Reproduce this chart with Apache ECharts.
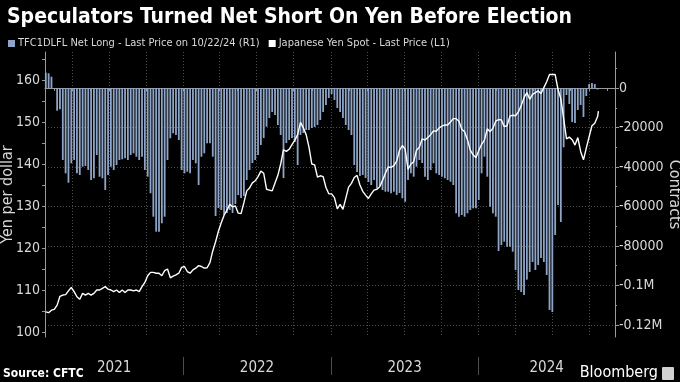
<!DOCTYPE html>
<html><head><meta charset="utf-8">
<script src="https://cdn.jsdelivr.net/npm/echarts@6/dist/echarts.min.js"></script>
<style>html,body{margin:0;padding:0;background:#000;}#c{width:680px;height:382px;}</style>
</head><body><div id="c"></div>
<script>
// ---- data ----
const firstWeek = [2021, 0, 26]; // weekly CFTC report dates (Tuesdays) from 26 Jan 2021
const netLong = [
 7750, 7440, 5720, -510, -11490, -10780, -36450, -43190, -47950, -38120,
 -36450, -43190, -44050, -39850, -39490, -41520, -46580, -45720, -33920, -44910,
 -45720, -51640, -44050, -39850, -41520, -38990, -36450, -36100, -35590, -36450,
 -33920, -33060, -34780, -36450, -34780, -41520, -44910, -53310, -65160, -72750,
 -72750, -68500, -65160, -36450, -25470, -22930, -23800, -26330, -41520, -43190,
 -42380, -43190, -36450, -38120, -49110, -34780, -33060, -28000, -28000, -34780,
 -64810, -60760, -61770, -64300, -63290, -61770, -63290, -58730, -54170, -55690,
 -54680, -46580, -41520, -37970, -36450, -33920, -28860, -25320, -19590, -15190,
 -12150, -13670, -18730, -23800, -45570, -27850, -26330, -25320, -27340, -38990,
 -23800, -22780, -21260, -21260, -20250, -19750, -18730, -16200, -12150, -8610,
 -5060, -3040, -6080, -10130, -12150, -15190, -18730, -21260, -23800, -38990,
 -42530, -44550, -44050, -45570, -47590, -49110, -46580, -50630, -49620, -51640,
 -52500, -52500, -53310, -52500, -54170, -53160, -55840, -57570, -46580, -43190,
 -44910, -39850, -36450, -37970, -44910, -46580, -41520, -38120, -43190, -44050,
 -44910, -45720, -46580, -47440, -49110, -63440, -65160, -64300, -65160, -63440,
 -61770, -60910, -60910, -56710, -43190, -34780, -44910, -60100, -63440, -65160,
 -82530, -79490, -77820, -80350, -80350, -82880, -92150, -102270, -103290, -104800,
 -97000, -93160, -88100, -92150, -89620, -86070, -88100, -94680, -112400, -113410,
 -74430, -59240, -67840, -30000, -3540, -8100, -17210, -17720, -11140, -8610,
 -14680, -4050, 2030, 2530, 2030, -760
];
const yenSpot = [
 104.8, 104.6, 105.2, 105.4, 106.4, 108.5, 108.8, 108.9, 109.8, 110.6,
 109.6, 108.4, 107.8, 109.2, 108.8, 109.2, 108.8, 109.2, 110.0, 110.0,
 110.4, 110.8, 110.2, 110.0, 109.6, 110.0, 109.4, 110.0, 109.4, 110.0,
 110.0, 109.8, 110.0, 109.6, 110.8, 111.8, 113.4, 114.2, 114.2, 114.0,
 114.0, 113.4, 114.6, 115.0, 112.9, 113.3, 113.6, 114.0, 115.4, 115.6,
 114.4, 114.0, 114.8, 115.2, 115.8, 115.6, 115.2, 115.3, 116.5, 119.3,
 121.5, 124.0, 126.0, 127.8, 129.0, 130.4, 129.8, 130.0, 128.3, 128.2,
 130.8, 133.6, 134.3, 135.5, 136.0, 137.0, 138.3, 137.8, 134.0, 133.8,
 133.6, 135.5, 137.3, 140.0, 143.4, 143.0, 143.5, 144.6, 145.7, 147.0,
 149.9, 148.6, 147.0, 144.0, 140.0, 139.8, 136.9, 137.2, 137.0, 134.4,
 132.9, 132.9, 132.0, 129.3, 130.4, 129.2, 131.8, 134.5, 135.4, 136.8,
 137.3, 135.0, 133.5, 132.6, 131.8, 132.9, 133.8, 134.0, 134.6, 136.1,
 137.8, 139.3, 139.2, 139.6, 140.7, 143.3, 144.4, 143.5, 138.7, 140.0,
 140.5, 143.3, 144.0, 146.0, 145.7, 146.3, 147.0, 147.9, 147.8, 148.6,
 149.0, 149.3, 149.3, 150.0, 150.8, 150.8, 150.2, 148.3, 147.7, 145.8,
 143.3, 142.2, 141.5, 143.2, 144.7, 145.7, 148.4, 147.7, 148.5, 150.2,
 150.6, 150.5, 148.9, 149.1, 151.4, 151.6, 151.5, 152.4, 153.9, 155.8,
 157.0, 155.4, 156.6, 157.0, 157.4, 156.8, 158.2, 159.6, 161.3, 161.3,
 161.3, 157.8, 155.5, 150.8, 146.0, 146.4, 145.8, 144.5, 146.3, 143.0,
 141.0, 143.8, 146.5, 149.1, 149.7, 151.3
];
const yenLast = ['2024-10-24', 152.6];
const yenTicks = [100, 110, 120, 130, 140, 150, 160];
const contractTicks = [0, -20000, -40000, -60000, -80000, -100000, -120000];
const yearLabels = ['2021', '2022', '2023', '2024'];

// ---- helpers ----
const DAY = 86400000;
const utc = (y, m, d) => Date.UTC(y, m, d);
const weekDates = netLong.map((_, k) => utc(firstWeek[0], firstWeek[1], firstWeek[2]) + k * 7 * DAY);
const xMin = utc(2021, 0, 24), xMax = utc(2024, 11, 4);
const quarterLines = [], halfQuarterTicks = [], yearStarts = [];
for (let y = 2021; y <= 2024; y++) {
  [[0,1],[3,1],[6,1],[9,1]].forEach(([m,d]) => { const t = utc(y,m,d); if (t > xMin && t < xMax) quarterLines.push(t); });
  [[0,1],[1,15],[3,1],[4,15],[6,1],[7,15],[9,1],[10,15]].forEach(([m,d]) => { const t = utc(y,m,d); if (t > xMin && t < xMax) halfQuarterTicks.push(t); });
  if (y > 2021) yearStarts.push(utc(y,0,1));
}
const bounds = [xMin, ...yearStarts, xMax];
const yearMids = yearLabels.map((_, k) => (bounds[k] + bounds[k+1]) / 2);
const yenMinor = []; for (let v = 100; v <= 165; v += 5) yenMinor.push(v);
const contractMinor = []; for (let v = -110000; v <= 10000; v += 20000) contractMinor.push(v);

const FONT = "'Liberation Sans Narrow', 'DejaVu Sans Condensed', 'Roboto', sans-serif";
const AX = '#9a9a9a';
const TXT = '#d9d9d9';
const BAR = '#8ea5c7';

const chart = echarts.init(document.getElementById('c'), null, {renderer: 'canvas'});
chart.setOption({
  backgroundColor: '#000',
  animation: false,
  textStyle: {fontFamily: FONT},
  title: [{
    text: 'Speculators Turned Net Short On Yen Before Election',
    left: 2, top: 2,
    textStyle: {color: '#fff', fontSize: 21, fontWeight: 'bold', fontFamily: FONT}
  }],
  legend: {
    left: 3, top: 33, icon: 'rect', itemWidth: 7, itemHeight: 7, itemGap: 9,
    textStyle: {color: TXT, fontSize: 11, fontFamily: FONT, padding: [0,0,0,-2]},
    data: ['TFC1DLFL Net Long - Last Price on 10/22/24 (R1)', 'Japanese Yen Spot - Last Price (L1)']
  },
  grid: {left: 45, right: 65, top: 52, bottom: 45, containLabel: false, outerBoundsMode: 'none'},
  xAxis: [
    {type: 'value', min: xMin, max: xMax, position: 'bottom',
     axisLine: {show: true, lineStyle: {color: AX}},
     axisTick: {show: false, customValues: quarterLines},
     axisLabel: {show: false},
     splitLine: {show: true, lineStyle: {color: '#4a4a4a', type: [1, 2]}}},
    {type: 'value', min: xMin, max: xMax, position: 'bottom',
     axisLine: {show: false},
     axisTick: {show: true, customValues: halfQuarterTicks, length: 3, lineStyle: {color: AX}},
     axisLabel: {show: false}, splitLine: {show: false}},
    {type: 'value', min: xMin, max: xMax, position: 'bottom', offset: 20,
     axisLine: {show: false},
     axisTick: {show: true, customValues: yearStarts, length: 18, lineStyle: {color: '#4d4d4d'}},
     axisLabel: {show: true, customValues: yearMids, margin: 4, color: TXT, fontSize: 15, fontFamily: FONT,
       formatter: v => yearLabels[yearMids.indexOf(v)] ?? String(new Date(v).getUTCFullYear())},
     splitLine: {show: false}}
  ],
  yAxis: [
    {type: 'value', min: 98.81, max: 166.67, position: 'left',
     name: 'Yen per dollar', nameLocation: 'middle', nameGap: 29, nameRotate: 90, nameMoveOverlap: false,
     nameTextStyle: {color: TXT, fontSize: 16, fontFamily: FONT},
     axisLine: {show: true, lineStyle: {color: AX}},
     axisTick: {show: true, customValues: yenMinor, length: 3, lineStyle: {color: AX}},
     axisLabel: {customValues: yenTicks, color: TXT, fontSize: 14, margin: 5, fontFamily: FONT},
     splitLine: {show: false}},
    {type: 'value', min: -126080, max: 18230, position: 'right',
     name: 'Contracts', nameLocation: 'middle', nameGap: 51, nameRotate: -90, nameMoveOverlap: false,
     nameTextStyle: {color: TXT, fontSize: 16, fontFamily: FONT},
     axisLine: {show: true, lineStyle: {color: AX}},
     axisTick: {show: true, customValues: contractTicks, length: 4, lineStyle: {color: AX}},
     axisLabel: {customValues: contractTicks, color: TXT, fontSize: 14, margin: 4, fontFamily: FONT,
       formatter: v => v === 0 ? '0' : (Math.abs(v) >= 100000 ? (v / 1e6) + 'M' : String(v))},
     splitLine: {show: true, lineStyle: {color: '#4a4a4a', type: [1, 2]}}},
    {type: 'value', min: -126080, max: 18230, position: 'right',
     axisLine: {show: false},
     axisTick: {show: true, customValues: contractMinor, length: 2, lineStyle: {color: AX}},
     axisLabel: {show: false}, splitLine: {show: false}}
  ],
  series: [
    {name: 'TFC1DLFL Net Long - Last Price on 10/22/24 (R1)', type: 'bar',
     xAxisIndex: 0, yAxisIndex: 1, barWidth: 1.8,
     itemStyle: {color: BAR},
     data: weekDates.map((d, k) => [d, netLong[k]]), z: 2},
    {name: 'Japanese Yen Spot - Last Price (L1)', type: 'line',
     xAxisIndex: 0, yAxisIndex: 0, showSymbol: false, symbol: 'none',
     lineStyle: {color: '#ffffff', width: 1.4}, itemStyle: {color: '#ffffff'},
     data: weekDates.map((d, k) => [d, yenSpot[k]]).concat([[Date.parse(yenLast[0] + 'T00:00:00Z'), yenLast[1]]]),
     z: 3}
  ],
  graphic: [
    {type: 'text', left: 3, top: 368, style: {text: 'Source: CFTC', fill: '#fff', font: "bold 12px " + FONT}},
    {type: 'text', right: 22, top: 365, style: {text: 'Bloomberg', fill: '#fff', font: "16px " + FONT}},
    {type: 'rect', right: 6, top: 367, shape: {width: 12, height: 13, r: 1}, style: {fill: '#d0d0d0'}}
  ]
});
</script></body></html>
